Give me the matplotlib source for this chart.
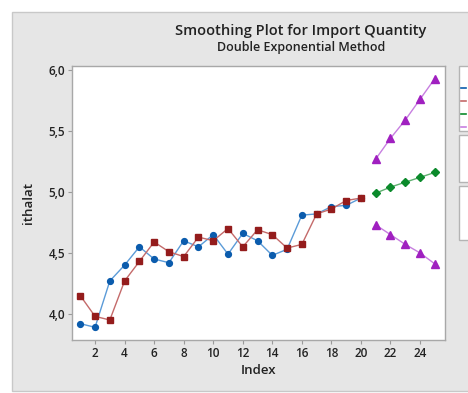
"""Minitab-style double exponential smoothing plot."""

import matplotlib
matplotlib.use("Agg")
import matplotlib.pyplot as plt
from matplotlib.patches import Rectangle
from matplotlib.lines import Line2D
from matplotlib.ticker import FuncFormatter

plt.rcParams["font.family"] = ["Open Sans", "DejaVu Sans"]

# data
index = list(range(1, 21))
actual = [3.92, 3.89, 4.27, 4.40, 4.55, 4.45, 4.42, 4.60, 4.55, 4.65,
          4.49, 4.66, 4.60, 4.48, 4.53, 4.81, 4.82, 4.88, 4.89, 4.95]
fits = [4.15, 3.98, 3.95, 4.27, 4.43, 4.59, 4.51, 4.47, 4.63, 4.60,
        4.70, 4.55, 4.69, 4.65, 4.54, 4.57, 4.82, 4.86, 4.93, 4.95]
fc_index = [21, 22, 23, 24, 25]
forecast = [4.99, 5.04, 5.08, 5.12, 5.16]
upper = [5.27, 5.44, 5.59, 5.76, 5.93]
lower = [4.73, 4.65, 4.57, 4.50, 4.41]

xticks = list(range(2, 26, 2))
yticks = [4.0, 4.5, 5.0, 5.5, 6.0]

BG = "#e6e6e6"
EDGE = "#b4b4b4"
BLUE, BLUE_L = "#0b5cad", "#5b9bd8"
RED, RED_L = "#941c1c", "#c46a6a"
GREEN, GREEN_L = "#0b8a2b", "#5fb070"
PURP, PURP_L = "#a020c0", "#c77fe0"


def main() -> None:
    fig = plt.figure(figsize=(4.68, 3.93), dpi=100, facecolor="white")

    # gray panel behind the graph
    fig.add_artist(Rectangle((12 / 468, 2 / 393), 1.0, 379 / 393,
                             transform=fig.transFigure, facecolor=BG,
                             edgecolor="#c8c8c8", lw=1.0, zorder=-10))

    ax = fig.add_axes([72 / 468, 1 - 340 / 393, 373 / 468, 274 / 393])
    ax.set_facecolor("white")

    ax.plot(index, actual, color=BLUE_L, lw=1.0, zorder=2)
    ax.plot(index, actual, ls="none", marker="o", ms=4.2, color=BLUE, zorder=3)
    ax.plot(index, fits, color=RED_L, lw=1.0, zorder=2)
    ax.plot(index, fits, ls="none", marker="s", ms=5.0, color=RED, zorder=3)
    ax.plot(fc_index, forecast, color=GREEN_L, lw=1.0, zorder=2)
    ax.plot(fc_index, forecast, ls="none", marker="D", ms=4.2, color=GREEN, zorder=3)
    for band in (upper, lower):
        ax.plot(fc_index, band, color=PURP_L, lw=1.0, zorder=2)
        ax.plot(fc_index, band, ls="none", marker="^", ms=5.2, color=PURP, zorder=3)

    ax.set_xlim(0.44, 25.69)
    ax.set_ylim(3.786, 6.033)
    ax.set_xticks(xticks)
    ax.set_yticks(yticks)
    ax.yaxis.set_major_formatter(FuncFormatter(lambda v, _: f"{v:.1f}".replace(".", ",")))
    ax.tick_params(length=3, width=0.8, color="#9a9a9a", labelsize=8.5,
                   labelcolor="#222222", pad=2)
    for lbl in ax.get_xticklabels() + ax.get_yticklabels():
        lbl.set_fontweight("semibold")
    for sp in ax.spines.values():
        sp.set_color("#a8a8a8")
        sp.set_linewidth(1.0)

    ax.set_xlabel("Index", fontsize=9.5, color="#222222", labelpad=3,
                  fontweight="semibold")
    ax.set_ylabel("ithalat", fontsize=9.5, color="#222222", labelpad=10,
                  fontweight="semibold")

    fig.text(301 / 468, 1 - 31 / 393, "Smoothing Plot for Import Quantity",
             ha="center", va="center", fontsize=10.5, fontweight="semibold",
             color="#222222")
    fig.text(301 / 468, 1 - 47 / 393, "Double Exponential Method",
             ha="center", va="center", fontsize=9, fontweight="semibold",
             color="#222222")

    # legend boxes clipped at the right edge
    for top, bot in ((66, 131), (135, 182), (186, 240)):
        fig.add_artist(Rectangle((459 / 468, 1 - bot / 393), 0.2, (bot - top) / 393,
                                 transform=fig.transFigure, facecolor="white",
                                 edgecolor=EDGE, lw=1.0, zorder=1))
    for y, c in ((88, BLUE), (101, RED_L), (114, GREEN), (127, PURP_L)):
        fig.add_artist(Line2D([461 / 468, 466 / 468], [1 - y / 393] * 2,
                              transform=fig.transFigure, color=c, lw=1.2, zorder=2))

    fig.savefig("out.png", dpi=100, facecolor="white")


if __name__ == "__main__":
    main()
